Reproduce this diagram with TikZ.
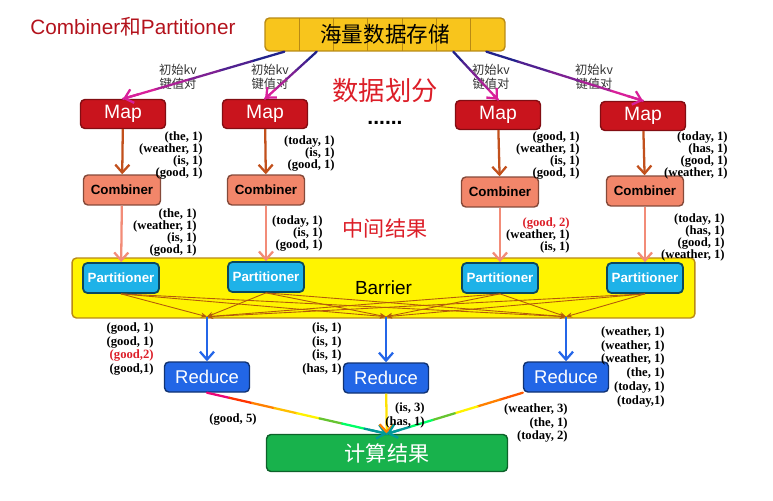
\documentclass[tikz,border=0pt]{standalone}
\usepackage{fontspec}
\setmainfont{Liberation Serif}
\setsansfont{Liberation Sans}
\newfontfamily\cjk{Noto Sans CJK SC}
\usetikzlibrary{positioning,calc,arrows.meta}

\definecolor{titlered}{HTML}{B3121C}
\definecolor{hintred}{HTML}{DC1E28}
\definecolor{storefill}{HTML}{F8C51C}
\definecolor{storeedge}{HTML}{B98A14}
\definecolor{mapfill}{HTML}{C9141D}
\definecolor{combfill}{HTML}{F2866A}
\definecolor{partfill}{HTML}{1EB2E8}
\definecolor{barfill}{HTML}{FFF400}
\definecolor{redfill}{HTML}{2266E6}
\definecolor{resfill}{HTML}{18B24C}
\definecolor{rust}{HTML}{C2501C}
\definecolor{salmon}{HTML}{F28C78}
\definecolor{crossline}{HTML}{B45A0A}
\definecolor{reduceblue}{HTML}{2466E8}
\definecolor{kvstart}{HTML}{22228C}
\definecolor{kvend}{HTML}{D8209A}

\newcommand\kvfont{\fontsize{7.2}{6.9}\selectfont\bfseries}
\newcommand\kvwidefont{\fontsize{7.2}{7.9}\selectfont\bfseries}

% line whose colour runs through a list, arrow at the end
\newcommand\fadeline[3]{%
  \foreach \fc [count=\fn] in {#3} {\xdef\fadesteps{\fn}\xdef\fadelast{\fc}}%
  \foreach \fc [count=\fn] in {#3} {%
    \pgfmathsetmacro\fa{(\fn-1)/\fadesteps}%
    \pgfmathsetmacro\fb{\fn/\fadesteps}%
    \draw[line width=1.3pt, line cap=round, \fc] ($(#1)!\fa!(#2)$) -- ($(#1)!\fb!(#2)$);}%
  \draw[->, line width=1.3pt, \fadelast] ($(#1)!0.9!(#2)$) -- (#2);}

\begin{document}
\begin{tikzpicture}[x=0.02cm, y=-0.02cm,
	>={Straight Barb[length=4.5pt,width=8pt]},
	every node/.style={inner sep=0pt},
	box/.style={draw, rounded corners=2.5pt, line width=0.8pt, align=center},
	storebox/.style={box, fill=storefill, draw=storeedge,
	                 minimum width=4.8cm, minimum height=0.66cm,
	                 font=\cjk\fontsize{12.3}{14}\selectfont,
	                 path picture={\foreach \i in {1,...,6}
	                   \draw[storeedge, line width=0.6pt]
	                   ($(path picture bounding box.north west)!\i/7!(path picture bounding box.north east)$) -- ++(0,40);}
	},
	mapbox/.style={box, fill=mapfill, draw=mapfill!65!black, text=white,
	               font=\sffamily\fontsize{11}{12}\selectfont,
	               minimum width=1.7cm, minimum height=0.58cm},
	combbox/.style={box, fill=combfill, draw=combfill!55!black,
	                font=\sffamily\bfseries\fontsize{7.6}{9}\selectfont,
	                minimum width=1.54cm, minimum height=0.6cm},
	partbox/.style={box, fill=partfill, draw=partfill!40!black, line width=1pt, text=white,
	                font=\sffamily\bfseries\fontsize{7.6}{9}\selectfont,
	                minimum width=1.52cm, minimum height=0.6cm},
	barbox/.style={box, fill=barfill, draw=storeedge,
	               font=\sffamily\fontsize{10.8}{12}\selectfont,
	               minimum width=12.46cm, minimum height=1.2cm},
	redbox/.style={box, fill=redfill, draw=redfill!50!black, text=white,
	               font=\sffamily\fontsize{10.5}{12}\selectfont,
	               minimum width=1.7cm, minimum height=0.6cm},
	resbox/.style={box, fill=resfill, draw=resfill!55!black, text=white,
	               font=\cjk\fontsize{12}{14}\selectfont,
	               minimum width=4.82cm, minimum height=0.74cm},
	kv/.style={font=\kvfont, align=right, anchor=north east},
	kvwide/.style={font=\kvwidefont, align=right, anchor=north east},
	hint/.style={font=\cjk\fontsize{7}{8}\selectfont, text=black!80, align=center},
	note/.style={text=hintred, font=\cjk\fontsize{#1}{#1}\selectfont},
	down/.style={->, line width=1.3pt},
	cross/.style={-{Stealth[length=3.5pt,width=3pt]}, crossline, line width=0.5pt}
]
	\useasboundingbox (0,0) rectangle (773,500);

	% barrier and partitioners
	\node (bar) [barbox] at (383.5,288) {Barrier};
	\node (part1) [partbox] at (121,278) {Partitioner};
	\node (part2) [partbox] at (266,277) {Partitioner};
	\node (part3) [partbox] at (500,278) {Partitioner};
	\node (part4) [partbox] at (645,278) {Partitioner};

	\node (title) [anchor=west, text=titlered, font=\sffamily\fontsize{11.8}{14}\selectfont] at (30,27) {Combiner{\cjk 和}Partitioner};
	\node (store) [storebox] at (385,34.5) {海量数据存储};

	\node (map1) [mapbox] at (123,114) {Map};
	\node (map2) [mapbox] at (265,114) {Map};
	\node (map3) [mapbox] at (498,115) {Map};
	\node (map4) [mapbox] at (643,116) {Map};

	\node (comb1) [combbox] at (122,190) {Combiner};
	\node (comb2) [combbox] at (266,190) {Combiner};
	\node (comb3) [combbox] at (500,192) {Combiner};
	\node (comb4) [combbox] at (645,191) {Combiner};

	\node (red1) [redbox] at (207,377) {Reduce};
	\node (red2) [redbox] at (386,378) {Reduce};
	\node (red3) [redbox] at (566,377) {Reduce};
	\node (res) [resbox] at (387,453) {计算结果};

	\node (split) [note=15] at (385,91) {数据划分};
	\node (dots) [font=\sffamily\bfseries\fontsize{12}{12}\selectfont] at (385,123) {......};
	\node (mid) [note=12] at (385,228) {中间结果};

	\node (hint1) [hint] at (178,77) {初始kv\\键值对};
	\node (hint2) [hint] at (270,77) {初始kv\\键值对};
	\node (hint3) [hint] at (491,77) {初始kv\\键值对};
	\node (hint4) [hint] at (594,77) {初始kv\\键值对};

	\coordinate (s1) at ($(store.south west)!0.083!(store.south east)$);
	\coordinate (s2) at ($(store.south west)!0.217!(store.south east)$);
	\coordinate (s3) at ($(store.south west)!0.783!(store.south east)$);
	\coordinate (s4) at ($(store.south west)!0.92!(store.south east)$);
	\coordinate (in1) at ($(red1.north |- bar.south)+(0,-2)$);
	\coordinate (in2) at ($(red2.north |- bar.south)+(0,-2)$);
	\coordinate (in3) at ($(red3.north |- bar.south)+(0,-2)$);

	% storage to map
	\fadeline{s1}{map1.north}{kvstart, kvend!25!kvstart, kvend!50!kvstart, kvend!75!kvstart, kvend}
	\fadeline{s2}{map2.north}{kvstart, kvend!25!kvstart, kvend!50!kvstart, kvend!75!kvstart, kvend}
	\fadeline{s3}{map3.north}{kvstart, kvend!25!kvstart, kvend!50!kvstart, kvend!75!kvstart, kvend}
	\fadeline{s4}{map4.north}{kvstart, kvend!25!kvstart, kvend!50!kvstart, kvend!75!kvstart, kvend}

	\draw[down, rust] (map1) -- (comb1);
	\draw[down, rust] (map2) -- (comb2);
	\draw[down, rust] (map3) -- (comb3);
	\draw[down, rust] (map4) -- (comb4);
	\draw[down, salmon] (comb1) -- (part1);
	\draw[down, salmon] (comb2) -- (part2);
	\draw[down, salmon] (comb3) -- (part3);
	\draw[down, salmon] (comb4) -- (part4);

	% shuffle inside the barrier
	\draw[cross] (part1.south) -- (in1);
	\draw[cross] (part1.south) -- (in2);
	\draw[cross] (part1.south) -- (in3);
	\draw[cross] (part2.south) -- (in1);
	\draw[cross] (part2.south) -- (in2);
	\draw[cross] (part2.south) -- (in3);
	\draw[cross] (part3.south) -- (in1);
	\draw[cross] (part3.south) -- (in2);
	\draw[cross] (part3.south) -- (in3);
	\draw[cross] (part4.south) -- (in1);
	\draw[cross] (part4.south) -- (in2);
	\draw[cross] (part4.south) -- (in3);

	\draw[down, reduceblue] (in1) -- (red1);
	\draw[down, reduceblue] (in2) -- (red2);
	\draw[down, reduceblue] (in3) -- (red3);

	\fadeline{red1.south}{res.north}{magenta!80!red, red!60!orange, orange, orange!50!yellow, yellow, yellow!40!green, green!60!cyan, teal!80!cyan}
	\draw[-{Straight Barb[length=4.5pt,width=8pt,color=orange]}, line width=1.3pt, yellow!85!orange] (red2) -- (res);
	\fadeline{red3.south west}{res.north}{orange!70!red, orange, yellow, yellow!40!green, green!60!cyan, teal!80!cyan}

	% key/value labels
	\node (m1out) [kv] at (203,131) {(the, 1)\\(weather, 1)\\(is, 1)\\(good, 1)};
	\node (m2out) [kv] at (335,135) {(today, 1)\\(is, 1)\\(good, 1)};
	\node (m3out) [kv] at (580,131) {(good, 1)\\(weather, 1)\\(is, 1)\\(good, 1)};
	\node (m4out) [kv] at (728,131) {(today, 1)\\(has, 1)\\(good, 1)\\(weather, 1)};
	\node (c1out) [kv] at (197,208) {(the, 1)\\(weather, 1)\\(is, 1)\\(good, 1)};
	\node (c2out) [kv] at (323,215) {(today, 1)\\(is, 1)\\(good, 1)};
	\node (c3out) [kv] at (570,217) {\textcolor{hintred}{(good, 2)}\\(weather, 1)\\(is, 1)};
	\node (c4out) [kv] at (725,213) {(today, 1)\\(has, 1)\\(good, 1)\\(weather, 1)};
	\node (r1in) [kvwide] at (154,322) {(good, 1)\\(good, 1)\\\textcolor{hintred}{(good,2)}\\(good,1)};
	\node (r2in) [kvwide] at (342,322) {(is, 1)\\(is, 1)\\(is, 1)\\(has, 1)};
	\node (r3in) [kvwide] at (665,326) {(weather, 1)\\(weather, 1)\\(weather, 1)\\(the, 1)\\(today, 1)\\(today,1)};
	\node (r1out) [kvwide, anchor=center] at (233,419) {(good, 5)};
	\node (r2out) [kvwide] at (425,402) {(is, 3)\\(has, 1)};
	\node (r3out) [kvwide] at (568,403) {(weather, 3)\\(the, 1)\\(today, 2)};
\end{tikzpicture}
\end{document}
